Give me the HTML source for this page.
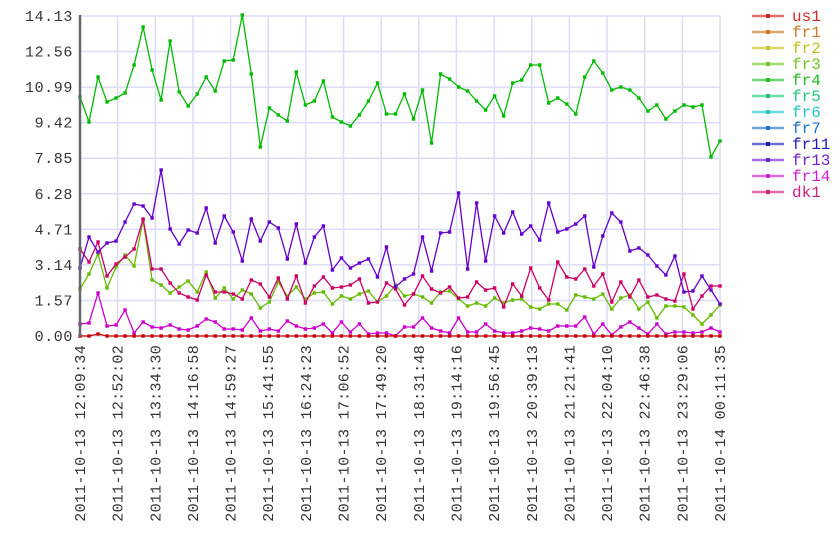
<!DOCTYPE html>
<html><head><meta charset="utf-8"><style>
html,body{margin:0;padding:0;background:#fff;width:840px;height:560px;overflow:hidden}
svg text{font-family:"Liberation Mono",monospace}
</style></head><body>
<svg id="s" width="840" height="560" xmlns="http://www.w3.org/2000/svg">
<g id="grid" stroke="#dcdcf8" stroke-width="1.5"></g>
<g id="series"></g>
<line x1="80" y1="15" x2="80" y2="337" stroke="#666670" stroke-width="2.5"/>
<g id="ylab" font-size="15" fill="#333" text-anchor="end" letter-spacing="0.6"></g>
<g id="xlab" font-size="15" fill="#333" letter-spacing="0.3"></g>
<g id="legend" font-size="16"></g>
</svg>
<script>
var NS="http://www.w3.org/2000/svg";
function el(p,t,a,txt){var e=document.createElementNS(NS,t);for(var k in a)e.setAttribute(k,a[k]);if(txt!==undefined)e.textContent=txt;p.appendChild(e);return e;}
var grid=document.getElementById('grid'),ylab=document.getElementById('ylab'),xlab=document.getElementById('xlab'),ser=document.getElementById('series'),leg=document.getElementById('legend');
var yv=["14.13","12.56","10.99","9.42","7.85","6.28","4.71","3.14","1.57","0.00"];
for(var i=0;i<10;i++){var y=16+i*320/9;el(grid,'line',{x1:80,x2:720,y1:y,y2:y});el(ylab,'text',{x:73,y:y+5},yv[i]);}
var xt=["12:09:34","12:52:02","13:34:30","14:16:58","14:59:27","15:41:55","16:24:23","17:06:52","17:49:20","18:31:48","19:14:16","19:56:45","20:39:13","21:21:41","22:04:10","22:46:38","23:29:06","00:11:35"];
for(var i=0;i<18;i++){var x=80+i*640/17;el(grid,'line',{x1:x,x2:x,y1:16,y2:336});
var d=(i==17?"2011-10-14":"2011-10-13");
el(xlab,'text',{x:0,y:0,transform:"translate("+(x+5)+",345) rotate(-90)","text-anchor":"end"},d+" "+xt[i]);}
var S={
fr3:["#66bb00",[289,274,254,288,267,255,266,220,280,285,293,287,281,292,272,298,288,299,290,294,308,302,282,296,287,299,293,292,304,296,299,294,291,302,296,285,296,294,297,303,292,291,299,306,303,306,298,303,300,299,298,307,309,304,304,310,295,297,299,294,309,298,295,309,302,318,306,306,307,315,324,315,305]],
fr14:["#cc00cc",[324,323,293,326,325,310,333,322,327,328,325,329,330,326,319,322,329,329,330,318,331,329,331,321,326,329,328,324,333,322,332,324,334,333,333,336,327,327,318,328,331,333,318,332,332,324,331,333,333,331,331,328,329,331,326,326,326,317,334,324,335,327,322,328,334,324,334,332,332,333,332,328,332]],
dk1:["#cc0066",[249,262,242,276,264,257,249,219,269,269,283,293,297,300,275,292,292,294,299,280,284,297,278,299,276,303,286,277,288,287,285,279,303,302,283,289,305,294,276,289,293,287,298,297,282,290,288,307,284,296,268,288,300,262,277,279,269,286,274,302,282,297,280,297,295,299,301,274,309,296,286,286]],
fr13:["#6600cc",[268,237,252,243,241,222,204,206,218,170,229,244,230,233,208,243,216,232,261,219,241,222,228,259,224,263,237,226,270,258,268,263,259,277,247,287,279,274,237,271,233,232,193,269,203,261,216,233,212,234,226,240,203,232,229,224,216,267,236,213,222,251,248,255,266,275,256,292,291,276,290,304]],
fr4:["#00bb00",[97,122,77,102,98,93,65,27,70,100,41,92,106,94,77,91,61,60,15,74,147,108,115,121,72,105,101,81,117,122,126,115,101,83,114,114,94,119,90,143,74,79,87,91,101,110,96,116,83,80,65,65,103,98,104,114,77,61,73,90,87,90,98,111,105,119,111,105,107,105,157,141]]
};
S.fr3[1]=S.fr3[1].slice(0,26).concat(S.fr3[1].slice(26,50)).concat(S.fr3[1].slice(51)).slice(0,72);
S.fr14[1]=S.fr14[1].slice(0,26).concat(S.fr14[1].slice(26,50)).concat(S.fr14[1].slice(51)).slice(0,72);
var us=[];for(var i=0;i<72;i++)us.push(i==2?334:336);
S.us1=["#c80000",us];
function draw(c,a){var n=a.length,pts=[];for(var i=0;i<n;i++){var x=80+i*640/(n-1);pts.push(x.toFixed(1)+","+a[i]);}
el(ser,'polyline',{points:pts.join(" "),fill:"none",stroke:c,"stroke-width":1.3});
for(var i=0;i<n;i++){var x=80+i*640/(n-1);el(ser,'rect',{x:x-1.7,y:a[i]-1.7,width:3.4,height:3.4,fill:c});}}
["fr3","fr14","dk1","fr13","fr4","us1"].forEach(function(k){draw(S[k][0],S[k][1]);});
var L=[["us1","#d02828"],["fr1","#d07820"],["fr2","#c8c020"],["fr3","#70c820"],["fr4","#20c020"],["fr5","#20c880"],["fr6","#20c8c8"],["fr7","#2070d0"],["fr11","#2020c0"],["fr13","#7020d0"],["fr14","#d020d0"],["dk1","#d02080"]];
for(var i=0;i<12;i++){var y=16+i*16;el(leg,'line',{x1:752,x2:784,y1:y,y2:y,stroke:L[i][1],"stroke-width":2.5,opacity:0.65});
el(leg,'rect',{x:766,y:y-2,width:4,height:4,fill:L[i][1]});
el(leg,'text',{x:792,y:y+5,fill:L[i][1]},L[i][0]);}
</script>
</body></html>
